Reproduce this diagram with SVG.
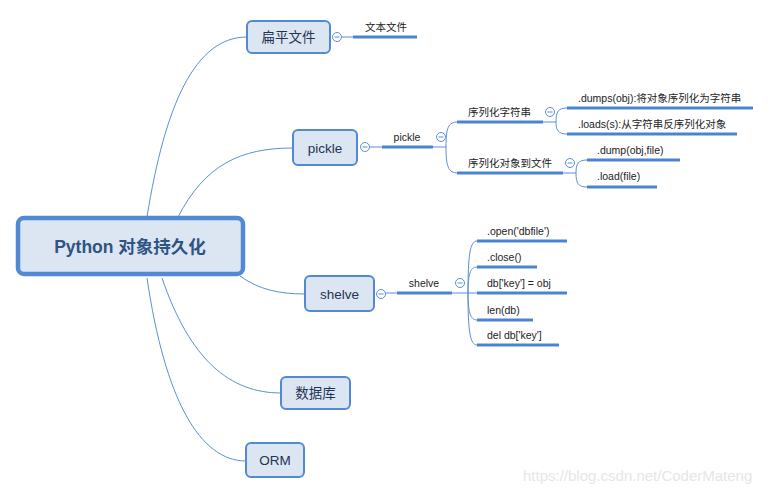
<svg xmlns="http://www.w3.org/2000/svg" width="771" height="494" viewBox="0 0 771 494">
<style>
.bg{fill:#ffffff}
.root{fill:#dce6f2;stroke:#5289d2;stroke-width:4.5}
.n1{fill:#dce6f2;stroke:#5289d2;stroke-width:2}
.rt{font-family:"Liberation Sans","Noto Sans CJK SC",sans-serif;font-size:17.5px;font-weight:bold;fill:#2f5383;text-anchor:middle}
.t1{font-family:"Liberation Sans","Noto Sans CJK SC",sans-serif;font-size:13.5px;fill:#1f3352;text-anchor:middle}
.t2{font-family:"Liberation Sans","Noto Sans CJK SC",sans-serif;font-size:10.5px;fill:#222222}
.t2m{font-family:"Liberation Sans","Noto Sans CJK SC",sans-serif;font-size:10.5px;fill:#222222;text-anchor:middle}
.thin{fill:none;stroke:#5b8fd6;stroke-width:1}
.thick{fill:none;stroke:#4a84d0;stroke-width:3}
.tog{fill:#ffffff;stroke:#5b8fd6;stroke-width:1}
.wm{font-family:"Liberation Sans",sans-serif;font-size:15px;fill:#e6e6e6}
</style>
<rect class="bg" x="0" y="0" width="771" height="494"/>
<g id="connectors">
  <path class="thin" d="M147,217 C165,105 195,37 247,37"/>
  <path class="thin" d="M178,217 C205,165 240,148 293,148"/>
  <path class="thin" d="M240,276 C258,289 278,294 305,294"/>
  <path class="thin" d="M162,278 C190,360 230,393 281,393"/>
  <path class="thin" d="M147,278 C165,400 200,461 246,461"/>
  <path class="thin" d="M341,37 L353,37"/>
  <path class="thick" d="M353,37 L417,37"/>
  <path class="thin" d="M369,147 L382,147"/>
  <path class="thick" d="M382,147 L433,147"/>
  <path class="thin" d="M433,147 L446,147"/>
  <path class="thin" d="M446,147 C446,128 448,122 458,122"/>
  <path class="thin" d="M446,147 C446,166 448,173 458,173"/>
  <path class="thick" d="M457,122 L543,122"/>
  <path class="thick" d="M457,173 L563,173"/>
  <path class="thin" d="M543,122 L556,122"/>
  <path class="thin" d="M556,122 C556,112 558,108 567,108"/>
  <path class="thin" d="M556,122 C556,130 558,134 567,134"/>
  <path class="thick" d="M567,108 L753,108"/>
  <path class="thick" d="M567,134 L737,134"/>
  <path class="thin" d="M563,173 L576,173"/>
  <path class="thin" d="M576,173 C576,164 578,160 587,160"/>
  <path class="thin" d="M576,173 C576,183 578,187 587,187"/>
  <path class="thick" d="M587,160 L680,160"/>
  <path class="thick" d="M587,187 L657,187"/>
  <path class="thin" d="M385,293 L397,293"/>
  <path class="thick" d="M397,293 L452,293"/>
  <path class="thin" d="M452,293 L477,293"/>
  <path class="thin" d="M468,293 C468,255 470,241 477,241"/>
  <path class="thin" d="M468,293 C468,275 470,267 477,267"/>
  <path class="thin" d="M468,293 C468,311 470,320 477,320"/>
  <path class="thin" d="M468,293 C468,331 470,345 477,345"/>
  <path class="thick" d="M477,241 L567,241"/>
  <path class="thick" d="M477,267 L537,267"/>
  <path class="thick" d="M477,293 L567,293"/>
  <path class="thick" d="M477,320 L533,320"/>
  <path class="thick" d="M477,345 L559,345"/>
</g>
<g id="root">
  <rect class="root" x="18" y="218" width="225" height="56" rx="6"/>
  <text class="rt" x="130" y="253">Python 对象持久化</text>
</g>
<g id="n-flat">
  <rect class="n1" x="247" y="21" width="83" height="32" rx="5"/>
  <text class="t1" x="288.5" y="42">扁平文件</text>
  <circle class="tog" cx="337" cy="37" r="4.5"/>
  <path class="thin" d="M334.5,37 L339.5,37"/>
</g>
<g id="n-text-file">
  <text class="t2" x="365" y="31">文本文件</text>
</g>
<g id="n-pickle">
  <rect class="n1" x="293" y="130" width="64" height="35" rx="5"/>
  <text class="t1" x="325" y="153">pickle</text>
  <circle class="tog" cx="365" cy="147" r="4.5"/>
  <path class="thin" d="M362.5,147 L367.5,147"/>
</g>
<g id="n-pickle-sub">
  <text class="t2m" x="407" y="141">pickle</text>
  <circle class="tog" cx="441" cy="137" r="4.5"/>
  <path class="thin" d="M438.5,137 L443.5,137"/>
</g>
<g id="n-ser-str">
  <text class="t2" x="468" y="116">序列化字符串</text>
  <circle class="tog" cx="550" cy="112" r="4.5"/>
  <path class="thin" d="M547.5,112 L552.5,112"/>
</g>
<g id="n-dumps"><text class="t2" x="578" y="102">.dumps(obj):将对象序列化为字符串</text></g>
<g id="n-loads"><text class="t2" x="578" y="128">.loads(s):从字符串反序列化对象</text></g>
<g id="n-ser-file">
  <text class="t2" x="468" y="167">序列化对象到文件</text>
  <circle class="tog" cx="570" cy="163" r="4.5"/>
  <path class="thin" d="M567.5,163 L572.5,163"/>
</g>
<g id="n-dump"><text class="t2" x="597" y="154">.dump(obj,file)</text></g>
<g id="n-load"><text class="t2" x="597" y="180">.load(file)</text></g>
<g id="n-shelve">
  <rect class="n1" x="305" y="276" width="69" height="35" rx="5"/>
  <text class="t1" x="339.5" y="299">shelve</text>
  <circle class="tog" cx="381" cy="294" r="4.5"/>
  <path class="thin" d="M378.5,294 L383.5,294"/>
</g>
<g id="n-shelve-sub">
  <text class="t2m" x="424" y="287">shelve</text>
  <circle class="tog" cx="460" cy="283" r="4.5"/>
  <path class="thin" d="M457.5,283 L462.5,283"/>
</g>
<g id="n-open"><text class="t2" x="487" y="235">.open('dbfile')</text></g>
<g id="n-close"><text class="t2" x="487" y="261">.close()</text></g>
<g id="n-assign"><text class="t2" x="487" y="287">db['key'] = obj</text></g>
<g id="n-len"><text class="t2" x="487" y="314">len(db)</text></g>
<g id="n-del"><text class="t2" x="487" y="339">del db['key']</text></g>
<g id="n-db">
  <rect class="n1" x="281" y="377" width="69" height="32" rx="5"/>
  <text class="t1" x="315.5" y="398">数据库</text>
</g>
<g id="n-orm">
  <rect class="n1" x="246" y="443" width="58" height="34" rx="5"/>
  <text class="t1" x="275" y="465">ORM</text>
</g>
<text class="wm" x="523" y="481">https://blog.csdn.net/CoderMateng</text>
</svg>
